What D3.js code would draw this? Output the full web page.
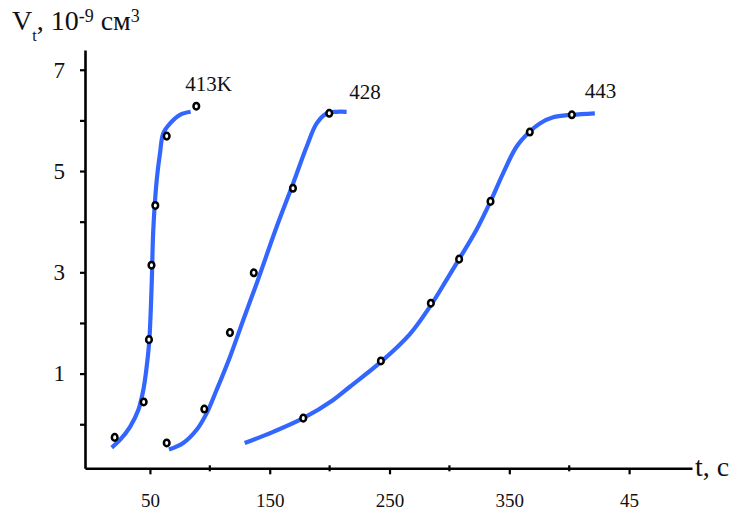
<!DOCTYPE html>
<html>
<head>
<meta charset="utf-8">
<script src="https://cdn.jsdelivr.net/npm/d3@7"></script>
<style>
  body { margin: 0; background: #fff; }
</style>
</head>
<body>
<svg id="chart" width="735" height="512"></svg>
<script>
var svgWidth = 735;
var svgHeight = 512;
var serif = "Liberation Serif";

// подписи серий
var seriesNames = ["413K", "428", "443"];

// экспериментальные точки (t, c ; V, 10^-9 см3)
var t413 = [20.6, 44.8, 49.2, 51.3, 54.5, 64.0, 88.7];
var v413 = [-0.26, 0.44, 1.67, 3.14, 4.32, 5.69, 6.28];
var t428 = [64.0, 95.4, 116.8, 136.7, 169.4, 199.7];
var v428 = [-0.37, 0.30, 1.81, 2.99, 4.66, 6.14];
var t443 = [178.0, 242.8, 284.5, 308.1, 334.3, 367.1, 402.2];
var v443 = [0.12, 1.25, 2.39, 3.26, 4.40, 5.77, 6.11];

// сглаженные кривые
var curveT413 = [18.1, 25.0, 33.4, 40.3, 44.5, 47.3, 49.5, 51.5, 52.8, 55.7, 58.4, 61.2, 66.8, 75.1, 84.0];
var curveV413 = [-0.46, -0.31, -0.05, 0.28, 0.68, 1.14, 1.66, 2.79, 3.84, 4.83, 5.35, 5.75, 5.94, 6.11, 6.17];
var curveT428 = [65.9, 77.8, 89.0, 97.4, 105.7, 116.8, 127.9, 139.1, 155.8, 169.6, 180.8, 189.2, 197.5, 205.8, 214.2];
var curveV428 = [-0.50, -0.37, -0.11, 0.22, 0.68, 1.33, 2.06, 2.78, 3.90, 4.76, 5.48, 5.94, 6.14, 6.17, 6.17];
var curveT443 = [129.1, 152.9, 178.0, 203.0, 216.9, 242.8, 267.0, 284.5, 297.6, 308.1, 322.6, 334.3, 344.9, 356.0, 367.1, 375.5, 386.6, 402.2, 421.4];
var curveV443 = [-0.37, -0.15, 0.12, 0.48, 0.74, 1.23, 1.78, 2.35, 2.85, 3.26, 3.84, 4.40, 4.96, 5.48, 5.78, 5.94, 6.06, 6.11, 6.14];

// деления осей
var xLabelTicks = [50, 150, 250, 350, 450];
var xLabelText = ["50", "150", "250", "350", "45"];
var xMinorTicks = [100, 200, 300, 400];
var yTicks = [0, 1, 2, 3, 4, 5, 6, 7];
var yLabelTicks = [1, 3, 5, 7];

var svg = d3.select("#chart");

var x = d3.scaleLinear().domain([-4.2, 502.5]).range([85, 692]);
var y = d3.scaleLinear().domain([-0.87, 7.39]).range([468.3, 50]);

// ось Y
var yAxis = d3.axisLeft(y)
    .tickValues(yTicks)
    .tickSizeInner(5)
    .tickSizeOuter(0)
    .tickPadding(15)
    .tickFormat(d => yLabelTicks.indexOf(d) >= 0 ? d : "");

var gy = svg.append("g")
    .attr("transform", "translate(" + x.range()[0] + ",0)")
    .call(yAxis)
    .attr("font-family", serif);
gy.select(".domain").attr("stroke-width", 2.6);
gy.selectAll(".tick line").attr("stroke-width", 2.2);
gy.selectAll(".tick text").attr("font-size", 23).attr("fill", "#111");

// ось X
var xAxis = d3.axisBottom(x)
    .tickValues(xLabelTicks)
    .tickSizeInner(6)
    .tickSizeOuter(0)
    .tickPadding(19)
    .tickFormat((d, i) => xLabelText[i]);

var gx = svg.append("g")
    .attr("transform", "translate(0," + y.range()[0] + ")")
    .call(xAxis)
    .attr("font-family", serif);
gx.select(".domain").attr("stroke-width", 2.6);
gx.selectAll(".tick line").attr("stroke-width", 2.2);
gx.selectAll(".tick text").attr("font-size", 19).attr("fill", "#111");

gx.selectAll("line.minor")
    .data(xMinorTicks)
    .enter()
    .append("line")
    .attr("class", "minor")
    .attr("x1", d => x(d))
    .attr("x2", d => x(d))
    .attr("y1", -3)
    .attr("y2", 3)
    .attr("stroke", "#000")
    .attr("stroke-width", 2.2);

// кривые
var line = d3.line()
    .x(d => x(d[0]))
    .y(d => y(d[1]))
    .curve(d3.curveCatmullRom.alpha(0.5));

var curves = [
    d3.zip(curveT413, curveV413),
    d3.zip(curveT428, curveV428),
    d3.zip(curveT443, curveV443)
];

svg.selectAll("path.curve")
    .data(curves)
    .enter()
    .append("path")
    .attr("class", "curve")
    .attr("d", line)
    .attr("fill", "none")
    .attr("stroke", "#3366ff")
    .attr("stroke-width", 4.2);

// точки
var points = [
    d3.zip(t413, v413),
    d3.zip(t428, v428),
    d3.zip(t443, v443)
];

points.forEach(function(set){
    svg.append("g")
        .selectAll("ellipse")
        .data(set)
        .enter()
        .append("ellipse")
        .attr("cx", d => x(d[0]))
        .attr("cy", d => y(d[1]))
        .attr("rx", 2.8)
        .attr("ry", 3.3)
        .attr("fill", "#fff")
        .attr("stroke", "#000")
        .attr("stroke-width", 2.5);
});

// подписи температур, от последней точки
var labelShift = [[-11, -15], [20, -14], [13, -17]];
svg.selectAll("text.series")
    .data(points)
    .enter()
    .append("text")
    .attr("class", "series")
    .attr("x", (d, i) => x(d[d.length - 1][0]) + labelShift[i][0])
    .attr("y", (d, i) => y(d[d.length - 1][1]) + labelShift[i][1])
    .attr("font-family", serif)
    .attr("font-size", 21)
    .attr("fill", "#111")
    .text((d, i) => seriesNames[i]);

// заголовки осей
var title = svg.append("text")
    .attr("x", 12)
    .attr("y", 30)
    .attr("font-family", serif)
    .attr("font-size", 28)
    .attr("fill", "#111");
title.append("tspan").text("V");
title.append("tspan").attr("font-size", 16).attr("dy", 11).text("t");
title.append("tspan").attr("dy", -11).text(", 10");
title.append("tspan").attr("font-size", 18).attr("dy", -8).text("-9");
title.append("tspan").attr("dy", 8).text(" см");
title.append("tspan").attr("font-size", 18).attr("dy", -8).text("3");

svg.append("text")
    .attr("x", 695)
    .attr("y", 476)
    .attr("font-family", serif)
    .attr("font-size", 28)
    .attr("fill", "#111")
    .text("t, c");
</script>
</body>
</html>
